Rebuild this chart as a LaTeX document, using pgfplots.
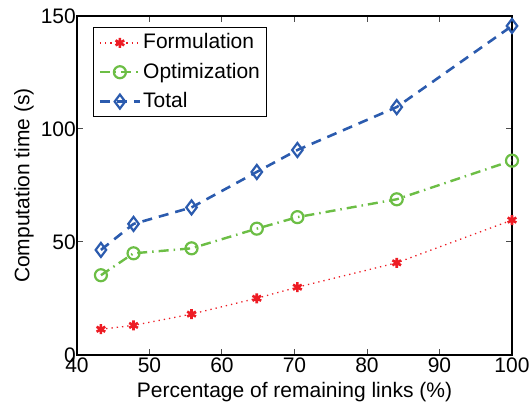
\documentclass[border=0pt]{standalone}
\usepackage{fontspec}
\setmainfont{Liberation Sans}
\usepackage{pgfplots}
\pgfplotsset{compat=1.18}
\definecolor{formred}{HTML}{ED1C24}
\definecolor{optgreen}{HTML}{6CBE45}
\definecolor{totblue}{HTML}{2B5BAE}

\begin{document}
\fontsize{21}{25}\selectfont
\begin{tikzpicture}
% page frame: 532 x 404, axis box at 77..512 / 16..355 (px from top-left)
\useasboundingbox (-77pt,-49pt) rectangle (455pt,355pt);
\begin{axis}[
    scale only axis,
    width=435pt,
    height=339pt,
    xmin=40, xmax=100,
    ymin=0, ymax=150,
    xtick={40,50,...,100},
    ytick={0,50,100,150},
    tick align=inside,
    major tick length=6pt,
    axis line style={line width=1.2pt},
    tick style={line width=1pt, black!70},
    xlabel={Percentage of remaining links (\%)},
    ylabel={Computation time (s)},
    xlabel style={at={(axis description cs:0.5,0)}, anchor=base, yshift=-42pt},
    ylabel style={at={(axis description cs:0,0.5)}, anchor=center, yshift=53pt},
    xticklabel style={yshift=-2pt},
    ticklabel style={font=\fontsize{21}{25}\selectfont, inner sep=1pt},
    label style={font=\fontsize{21}{25}\selectfont},
    /pgf/number format/assume math mode=true,
    legend style={
        at={(0.037,0.967)},
        anchor=north west,
        font=\fontsize{21}{25}\selectfont,
        draw=black,
        line width=1pt,
        inner xsep=5pt,
        inner ysep=4pt,
        row sep=7pt,
        cells={anchor=west},
    },
    legend cell align=left,
    legend image code/.code={
        \draw[mark repeat=2,mark phase=2,#1]
            plot coordinates {(0pt,0pt) (20pt,0pt) (40pt,0pt)};
    },
]

% Formulation
\addplot[color=formred, line width=1.3pt, dash pattern=on 1.3pt off 4pt,
    mark=asterisk, mark size=5pt, mark options={solid, line width=2.6pt}]
    coordinates {
        (43.3, 11.4)
        (47.8, 13.1)
        (55.8, 18.1)
        (64.8, 25.1)
        (70.4, 30.0)
        (84.1, 40.8)
        (100.0, 59.7)
    };
\addlegendentry{Formulation}

% Optimization
\addplot[color=optgreen, line width=2.4pt,
    dash pattern=on 10pt off 5pt on 1.5pt off 5pt,
    mark=o, mark size=6pt, mark options={solid, line width=2.2pt}]
    coordinates {
        (43.3, 35.3)
        (47.8, 45.0)
        (55.8, 47.2)
        (64.8, 55.9)
        (70.4, 61.0)
        (84.1, 68.9)
        (100.0, 86.0)
    };
\addlegendentry{Optimization}

% Total
\addplot[color=totblue, line width=2.6pt, dash pattern=on 10pt off 7pt,
    mark=diamond, mark size=7pt, mark options={solid, line width=2.2pt}]
    coordinates {
        (43.3, 46.5)
        (47.8, 58.0)
        (55.8, 65.3)
        (64.8, 81.0)
        (70.4, 90.7)
        (84.1, 109.7)
        (100.0, 145.6)
    };
\addlegendentry{Total}

\end{axis}
\end{tikzpicture}
\end{document}
